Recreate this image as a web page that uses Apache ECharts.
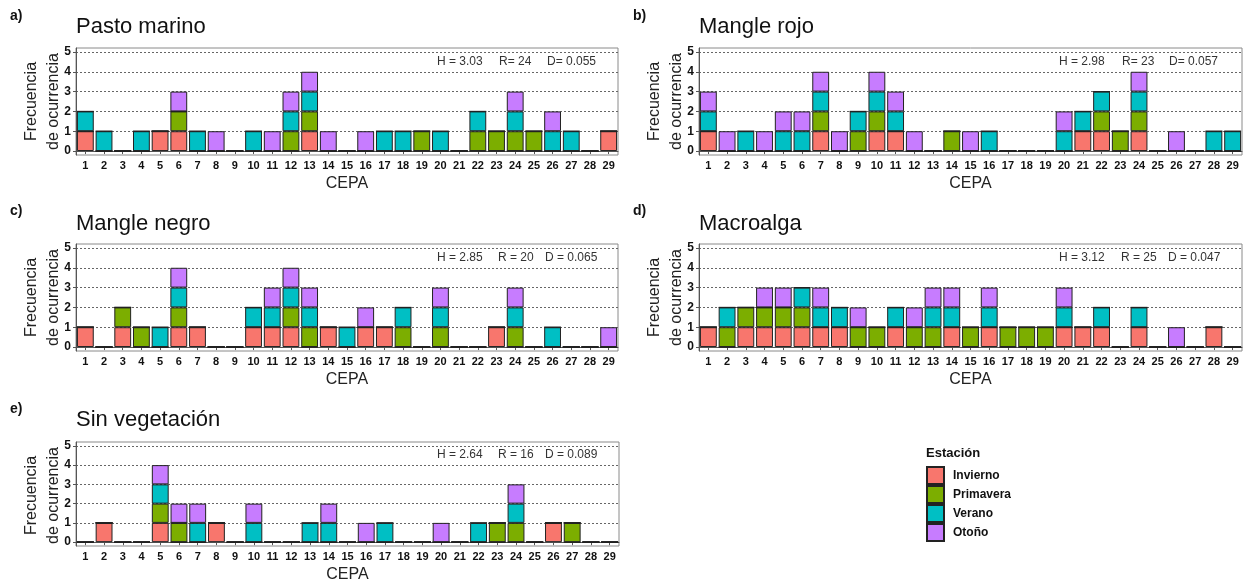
<!DOCTYPE html>
<html>
<head>
<meta charset="utf-8">
<script src="https://cdn.jsdelivr.net/npm/echarts@6.0.0/dist/echarts.min.js"></script>
<style>
html,body{margin:0;padding:0;background:#ffffff;}
#chart{width:1244px;height:584px;}
</style>
</head>
<body>
<div id="chart"></div>
<script>
// ---------- DATA ----------
const cepa = ['1','2','3','4','5','6','7','8','9','10','11','12','13','14','15','16','17','18','19','20','21','22','23','24','25','26','27','28','29'];
const seasons = ['Invierno','Primavera','Verano','Otoño'];
const yTicks = [0,1,2,3,4,5];
const panelTitles = ['Pasto marino','Mangle rojo','Mangle negro','Macroalga','Sin vegetación'];
const panelTags = ['a)','b)','c)','d)','e)'];
const statH = ['H = 3.03','H = 2.98','H = 2.85','H = 3.12','H = 2.64'];
const statR = ['R= 24','R= 23','R = 20','R = 25','R = 16'];
const statD = ['D= 0.055','D= 0.057','D = 0.065','D = 0.047','D = 0.089'];

// a) Pasto marino
const pastoInvierno  = [1,0,0,0,1,1,0,0,0,0,0,0,1,0,0,0,0,0,0,0,0,0,0,0,0,0,0,0,1];
const pastoPrimavera = [0,0,0,0,0,1,0,0,0,0,0,1,1,0,0,0,0,0,1,0,0,1,1,1,1,0,0,0,0];
const pastoVerano    = [1,1,0,1,0,0,1,0,0,1,0,1,1,0,0,0,1,1,0,1,0,1,0,1,0,1,1,0,0];
const pastoOtono     = [0,0,0,0,0,1,0,1,0,0,1,1,1,1,0,1,0,0,0,0,0,0,0,1,0,1,0,0,0];
// b) Mangle rojo
const rojoInvierno  = [1,0,0,0,0,0,1,0,0,1,1,0,0,0,0,0,0,0,0,0,1,1,0,1,0,0,0,0,0];
const rojoPrimavera = [0,0,0,0,0,0,1,0,1,1,0,0,0,1,0,0,0,0,0,0,0,1,1,1,0,0,0,0,0];
const rojoVerano    = [1,0,1,0,1,1,1,0,1,1,1,0,0,0,0,1,0,0,0,1,1,1,0,1,0,0,0,1,1];
const rojoOtono     = [1,1,0,1,1,1,1,1,0,1,1,1,0,0,1,0,0,0,0,1,0,0,0,1,0,1,0,0,0];
// c) Mangle negro
const negroInvierno  = [1,0,1,0,0,1,1,0,0,1,1,1,0,1,0,1,1,0,0,0,0,0,1,0,0,0,0,0,0];
const negroPrimavera = [0,0,1,1,0,1,0,0,0,0,0,1,1,0,0,0,0,1,0,1,0,0,0,1,0,0,0,0,0];
const negroVerano    = [0,0,0,0,1,1,0,0,0,1,1,1,1,0,1,0,0,1,0,1,0,0,0,1,0,1,0,0,0];
const negroOtono     = [0,0,0,0,0,1,0,0,0,0,1,1,1,0,0,1,0,0,0,1,0,0,0,1,0,0,0,0,1];
// d) Macroalga
const algaInvierno  = [1,0,1,1,1,1,1,1,0,0,1,0,0,1,0,1,0,0,0,1,1,1,0,1,0,0,0,1,0];
const algaPrimavera = [0,1,1,1,1,1,0,0,1,1,0,1,1,0,1,0,1,1,1,0,0,0,0,0,0,0,0,0,0];
const algaVerano    = [0,1,0,0,0,1,1,1,0,0,1,0,1,1,0,1,0,0,0,1,0,1,0,1,0,0,0,0,0];
const algaOtono     = [0,0,0,1,1,0,1,0,1,0,0,1,1,1,0,1,0,0,0,1,0,0,0,0,0,1,0,0,0];
// e) Sin vegetación
const sinInvierno  = [0,1,0,0,1,0,0,1,0,0,0,0,0,0,0,0,0,0,0,0,0,0,0,0,0,1,0,0,0];
const sinPrimavera = [0,0,0,0,1,1,0,0,0,0,0,0,0,0,0,0,0,0,0,0,0,0,1,1,0,0,1,0,0];
const sinVerano    = [0,0,0,0,1,0,1,0,0,1,0,0,1,1,0,0,1,0,0,0,0,1,0,1,0,0,0,0,0];
const sinOtono     = [0,0,0,0,1,1,1,0,0,1,0,0,0,1,0,1,0,0,0,1,0,0,0,1,0,0,0,0,0];

const panelData = [
  [pastoInvierno, pastoPrimavera, pastoVerano, pastoOtono],
  [rojoInvierno, rojoPrimavera, rojoVerano, rojoOtono],
  [negroInvierno, negroPrimavera, negroVerano, negroOtono],
  [algaInvierno, algaPrimavera, algaVerano, algaOtono],
  [sinInvierno, sinPrimavera, sinVerano, sinOtono]
];

// ---------- STYLE / LAYOUT ----------
const seasonColors = ['#F8766D','#7CAE00','#00BFC4','#C77CFF'];
const FONT = 'Liberation Sans, Arial, sans-serif';
const grids = [
  {left:76,  top:48,  width:542, height:107},
  {left:699, top:48,  width:543, height:107},
  {left:76,  top:244, width:542, height:107},
  {left:699, top:244, width:543, height:107},
  {left:76,  top:442, width:543, height:107}
];
const titleY = [27, 27, 224, 224, 420];
const tagPos = [[10,16],[633,16],[10,211],[633,211],[10,409]];
const yNameX = [43, 666, 43, 666, 43];
const statY = [62, 62, 258, 258, 455];
const statX = [[437,499,547],[1059,1122,1169],[437,498,545],[1059,1121,1168],[437,498,545]];

function txt(x, y, text, font, fill, align, extra) {
  return Object.assign({type:'text', x:x, y:y, style:{text:text, font:font, fill:fill,
    align:align, verticalAlign:'middle', textAlign:align, textVerticalAlign:'middle'}}, extra || {});
}

const option = {
  animation:false,
  backgroundColor:'#ffffff',
  textStyle:{fontFamily:FONT},
  grid: grids.map(g => Object.assign({show:true, borderColor:'#8a8a8a', borderWidth:1, backgroundColor:'transparent', containLabel:false}, g)),
  legend:{
    data: seasons,
    orient:'vertical',
    left:926, top:466,
    padding:0,
    itemWidth:17, itemHeight:17, itemGap:0,
    icon:'rect',
    selectedMode:false,
    textStyle:{fontFamily:FONT, fontSize:12, fontWeight:'bold', color:'#111', padding:[0,0,0,4]}
  },
  xAxis: grids.map((g,i) => ({
    type:'category', gridIndex:i, data:cepa, boundaryGap:true,
    axisLine:{show:true, lineStyle:{color:'#555', width:1}},
    axisTick:{show:true, alignWithLabel:true, length:3, lineStyle:{color:'#555'}},
    axisLabel:{interval:0, fontSize:11, fontWeight:'bold', color:'#111', margin:5, fontFamily:FONT},
    splitLine:{show:false},
    name:'CEPA', nameLocation:'middle', nameGap:21,
    nameTextStyle:{fontSize:16, color:'#222', fontFamily:FONT}
  })),
  yAxis: grids.map((g,i) => ({
    type:'value', gridIndex:i, min:-0.2, max:5.2,
    axisLine:{show:true, lineStyle:{color:'#555', width:1}},
    axisTick:{show:true, length:3, customValues:yTicks, lineStyle:{color:'#555'}},
    axisLabel:{customValues:yTicks, fontSize:12, fontWeight:'bold', color:'#111', margin:5, fontFamily:FONT},
    splitLine:{show:true, lineStyle:{color:'#666', type:[2,2], width:1}}
  })),
  series: [],
  graphic: []
};

panelData.forEach((arrs, p) => {
  arrs.forEach((vals, s) => {
    option.series.push({
      type:'bar', name:seasons[s], xAxisIndex:p, yAxisIndex:p, stack:'panel'+p,
      data: vals, barWidth:'90%',
      itemStyle:{color:seasonColors[s], borderColor:'#222', borderWidth:1}
    });
  });
  const g = grids[p];
  option.graphic.push(
    txt(g.left, titleY[p], panelTitles[p], '22px '+FONT, '#111', 'left'),
    txt(tagPos[p][0], tagPos[p][1], panelTags[p], 'bold 14px '+FONT, '#111', 'left'),
    Object.assign(txt(yNameX[p], g.top + g.height/2, 'Frecuencia\nde ocurrencia', '16px '+FONT, '#222', 'center', {rotation:Math.PI/2})),
    txt(statX[p][0], statY[p], statH[p], '12px '+FONT, '#333', 'left'),
    txt(statX[p][1], statY[p], statR[p], '12px '+FONT, '#333', 'left'),
    txt(statX[p][2], statY[p], statD[p], '12px '+FONT, '#333', 'left')
  );
});
option.graphic.forEach(e => { if (e.style.text === 'Frecuencia\nde ocurrencia') e.style.lineHeight = 22; });
option.graphic.push(txt(926, 453, 'Estación', 'bold 13px '+FONT, '#111', 'left'));

const chart = echarts.init(document.getElementById('chart'), null, {renderer:'canvas'});
chart.setOption(option);
</script>
</body>
</html>
